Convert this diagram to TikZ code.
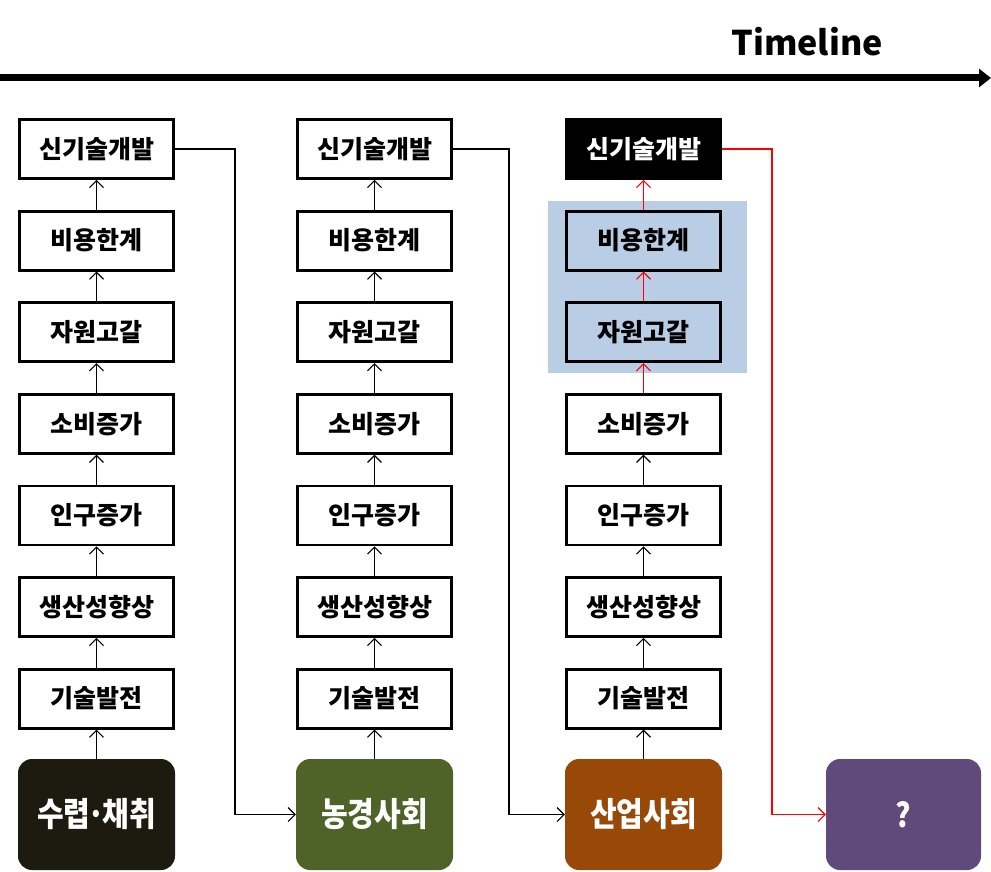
\documentclass[tikz,border=0pt]{standalone}
\usepackage{fontspec}
\newfontfamily\kr{Noto Sans CJK KR}
\usetikzlibrary{arrows.meta}
\definecolor{hlblue}{HTML}{B9CDE5}
\definecolor{cHunt}{HTML}{1D1B10}
\definecolor{cAgri}{HTML}{4F6228}
\definecolor{cInd}{HTML}{984807}
\definecolor{cQ}{HTML}{604A7B}
\begin{document}
\begin{tikzpicture}[x=1pt,y=-1pt,
  stepbox/.style={draw=black,line width=2.8pt,fill=white,minimum width=154pt,minimum height=59pt,inner sep=0pt,font=\kr\bfseries\fontsize{25}{27}\selectfont},
  bigbox/.style={rounded corners=14pt,minimum width=157pt,minimum height=111pt,inner sep=0pt,text=white,font=\kr\bfseries\fontsize{29}{32}\selectfont},
  link/.style={line width=1.1pt,-{Straight Barb[length=7pt,width=14pt,line width=1.1pt]}},
  rlink/.style={link,draw=red}]
\useasboundingbox (0,0) rectangle (991,872);
% timeline
\node[font=\kr\bfseries\fontsize{34}{36}\selectfont,anchor=center] (tl) at (807,42) {Timeline};
\coordinate (ts) at (0,78);
\coordinate (te) at (991,78);
\draw[line width=7pt,-{Triangle[length=12pt,width=18pt]}] (ts) -- (te);
% highlight
\fill[hlblue] (548,201) rectangle (747,373);
% columns
\foreach \c/\x in {a/96.5,b/374.5,c/643.5}{
  \foreach \r/\t [count=\k from 0] in {r1/신기술개발,r2/비용한계,r3/자원고갈,r4/소비증가,r5/인구증가,r6/생산성향상,r7/기술발전}{
    \node[stepbox] (\c\r) at (\x,149+91.6*\k) {\t};
  }
}
% black top box col3
\node[stepbox,fill=black,draw=black,text=white,rounded corners=2pt] (cr1) at (643.5,149) {신기술개발};
\node[stepbox,fill=hlblue] (cr2) at (643.5,240.6) {비용한계};
\node[stepbox,fill=hlblue] (cr3) at (643.5,332.2) {자원고갈};
% big boxes
\node[bigbox,fill=cHunt] (ba) at (96.5,814.5) {\scalebox{1}[1.15]{수렵\kern-0.1em·\kern-0.1em채취}};
\node[bigbox,fill=cAgri] (bb) at (374.5,814.5) {\scalebox{1}[1.15]{농경사회}};
\node[bigbox,fill=cInd] (bc) at (643.5,814.5) {\scalebox{1}[1.15]{산업사회}};
\node[bigbox,fill=cQ,minimum width=155pt] (bd) at (903.5,814.5) {\scalebox{1}[1.15]{?}};
% vertical arrows
\foreach \c in {a,b,c}{
  \draw[link] (b\c.north) -- (\c r7.south);
  \draw[link] (\c r7.north) -- (\c r6.south);
  \draw[link] (\c r6.north) -- (\c r5.south);
  \draw[link] (\c r5.north) -- (\c r4.south);
}
\foreach \c in {a,b}{
  \draw[link] (\c r4.north) -- (\c r3.south);
  \draw[link] (\c r3.north) -- (\c r2.south);
  \draw[link] (\c r2.north) -- (\c r1.south);
}
\draw[rlink] (cr4.north) -- (cr3.south);
\draw[rlink] (cr3.north) -- (cr2.south);
\draw[rlink] (cr2.north) -- (cr1.south);
% transitions
\draw[link] (ar1.east) -- (235,149) |- (bb.west);
\draw[link] (br1.east) -- (509,149) |- (bc.west);
\draw[rlink] (cr1.east) -- (772,149) |- (bd.west);
\end{tikzpicture}
\end{document}
